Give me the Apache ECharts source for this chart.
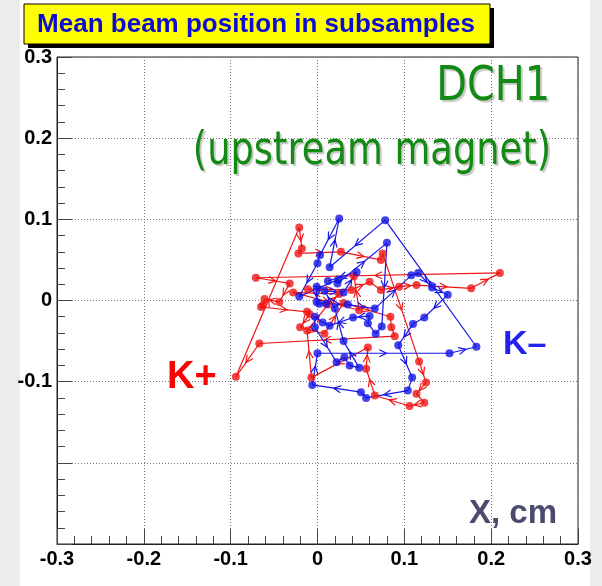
<!DOCTYPE html>
<html>
<head>
<meta charset="utf-8">
<script src="https://cdn.jsdelivr.net/npm/echarts@6/dist/echarts.min.js"></script>
<style>
  html, body { margin: 0; padding: 0; background: #ececec; }
  #chart { width: 602px; height: 586px; }
</style>
</head>
<body>
<div id="chart"></div>
<script>
// Axis tick labels (value order from min to max)
const xTickLabels = ['-0.3', '-0.2', '-0.1', '0', '0.1', '0.2', '0.3'];
const yTickLabels = ['', '', '-0.1', '0', '0.1', '0.2', '0.3'];

// K+ mean beam positions, subsample by subsample (X, Y in cm)
const kPlusX = [-0.011, 0.039, 0.060, 0.073, 0.094, 0.114, 0.177, 0.210, -0.071, -0.032,
                -0.044, -0.061, -0.063, -0.065, -0.012, -0.009, -0.020, 0.008, 0.030, 0.084,
                0.085, 0.089, -0.067, -0.094, -0.021, -0.018, -0.022, 0.027, 0.073, 0.075,
                0.117, 0.125, 0.114, 0.123, 0.106, 0.066, 0.056, 0.058, -0.007, -0.012,
                0.012, 0.025, -0.028, 0.048, 0.042];
const kPlusY = [0.014, 0.013, 0.023, 0.013, 0.017, 0.019, 0.015, 0.034, 0.028, 0.021,
                -0.002, 0.002, -0.006, -0.008, -0.014, -0.017, -0.033, -0.041, -0.003, -0.020,
                -0.033, -0.044, -0.053, -0.094, 0.090, 0.064, 0.058, 0.060, 0.050, 0.058,
                -0.075, -0.101, -0.115, -0.126, -0.130, -0.117, -0.084, -0.058, -0.095, -0.037,
                -0.005, 0.008, 0.010, -0.012, 0.030];

// K- mean beam positions, subsample by subsample (X, Y in cm)
const kMinusX = [-0.001, -0.001, 0.002, 0.010, 0.035, 0.066, 0.108, 0.116, 0.132, 0.150,
                 0.123, 0.110, 0.093, 0.109, 0.104, 0.056, 0.050, -0.006, 0.000, 0.152,
                 0.183, 0.078, 0.014, 0.025, 0.003, 0.000, -0.021, 0.024, 0.023, 0.080,
                 0.074, 0.067, 0.058, 0.060, 0.041, 0.014, 0.006, -0.003, -0.003, 0.022,
                 0.031, 0.037, 0.048, 0.030, 0.020, 0.008, 0.030, 0.045, 0.012];
const kMinusY = [0.017, -0.002, -0.004, -0.004, -0.005, -0.010, 0.031, 0.034, 0.016, 0.007,
                 -0.021, -0.029, -0.055, -0.095, -0.111, -0.120, -0.113, -0.104, -0.065, -0.065,
                 -0.057, 0.099, 0.041, 0.101, 0.056, 0.046, 0.005, 0.026, 0.021, 0.071,
                 -0.032, -0.041, -0.028, -0.019, -0.021, -0.031, -0.027, -0.020, -0.033, -0.076,
                 -0.070, -0.080, -0.083, -0.050, -0.010, 0.012, 0.010, 0.035, 0.024];

const RED = '#f01414';
const BLUE = '#1414e6';
const FONT = "'Liberation Sans', Arial, Helvetica, sans-serif";
const GREEN_FONT = "'DejaVu Sans', Verdana, sans-serif";

function points(xs, ys) {
  return xs.map((x, i) => [x, ys[i]]);
}
function segments(xs, ys) {
  const out = [];
  for (let i = 0; i + 1 < xs.length; i++) out.push([xs[i], ys[i], xs[i + 1], ys[i + 1]]);
  return out;
}

// Each step is a straight segment with an open arrowhead at its middle
function stepRenderer(color) {
  return function (params, api) {
    const a = api.coord([api.value(0), api.value(1)]);
    const b = api.coord([api.value(2), api.value(3)]);
    const dx = b[0] - a[0], dy = b[1] - a[1];
    const len = Math.hypot(dx, dy) || 1;
    const ux = dx / len, uy = dy / len;
    const children = [{
      type: 'line',
      shape: { x1: a[0], y1: a[1], x2: b[0], y2: b[1] },
      style: { stroke: color, lineWidth: 1.2 }
    }];
    if (len > 14) {
      const mx = (a[0] + b[0]) / 2 + ux * 3, my = (a[1] + b[1]) / 2 + uy * 3;
      const L = 8, ang = 0.45, c = Math.cos(ang), s = Math.sin(ang);
      const bx = -ux, by = -uy;
      const p1 = [mx + L * (bx * c - by * s), my + L * (bx * s + by * c)];
      const p2 = [mx + L * (bx * c + by * s), my + L * (-bx * s + by * c)];
      children.push({
        type: 'polyline',
        shape: { points: [p1, [mx, my], p2] },
        style: { stroke: color, fill: null, lineWidth: 1.2 }
      });
    }
    return { type: 'group', children: children };
  };
}

const axisCommon = {
  type: 'value',
  min: -0.3,
  max: 0.3,
  interval: 0.1,
  axisLine: { show: true, onZero: false, lineStyle: { color: '#222', width: 1 } },
  axisTick: { show: true, inside: true, length: 15, lineStyle: { color: '#444', width: 1 } },
  minorTick: { show: true, splitNumber: 5, length: 8, lineStyle: { color: '#444', width: 1 } },
  splitLine: { show: true, lineStyle: { color: '#777', width: 1, type: [1, 2] } }
};

const chart = echarts.init(document.getElementById('chart'), null, { renderer: 'canvas' });

chart.setOption({
  animation: false,
  backgroundColor: '#ececec',
  grid: {
    left: 57, right: 24, top: 57, bottom: 42,
    show: true, backgroundColor: '#ffffff', borderColor: '#222', borderWidth: 1
  },
  xAxis: Object.assign({}, axisCommon, {
    position: 'bottom',
    axisLabel: {
      color: '#000', fontFamily: FONT, fontWeight: 'bold', fontSize: 20, margin: 5,
      formatter: (v, i) => xTickLabels[i]
    }
  }),
  yAxis: Object.assign({}, axisCommon, {
    position: 'left',
    axisLabel: {
      color: '#000', fontFamily: FONT, fontWeight: 'bold', fontSize: 20, margin: 5,
      formatter: (v, i) => yTickLabels[i]
    }
  }),
  graphic: [
    // white page behind the figure
    { type: 'rect', z: -10, shape: { x: 20, y: 0, width: 570, height: 586 }, style: { fill: '#ffffff' }, silent: true },
    // title box with drop shadow
    { type: 'rect', z: 10, shape: { x: 28, y: 8, width: 466, height: 40 }, style: { fill: '#000' } },
    { type: 'rect', z: 11, shape: { x: 24, y: 4, width: 466, height: 40 }, style: { fill: '#ffff00', stroke: '#000', lineWidth: 1 } },
    { type: 'text', z: 12, x: 256, y: 25,
      style: { text: 'Mean beam position in subsamples', fill: '#0c0cd2', font: "bold 26px " + FONT,
               textAlign: 'center', textVerticalAlign: 'middle' } },
    // detector annotation
    { type: 'text', z: 12, x: 550, y: 112, scaleX: 0.83,
      style: { text: 'DCH1', fill: '#138a13', font: "48px " + GREEN_FONT, textAlign: 'right', textVerticalAlign: 'bottom',
               textShadowColor: 'rgba(0,0,0,0.22)', textShadowOffsetX: 2, textShadowOffsetY: 2, textShadowBlur: 1 } },
    { type: 'text', z: 12, x: 551, y: 175, scaleX: 0.80,
      style: { text: '(upstream magnet)', fill: '#138a13', font: "46px " + GREEN_FONT, textAlign: 'right', textVerticalAlign: 'bottom',
               textShadowColor: 'rgba(0,0,0,0.22)', textShadowOffsetX: 2, textShadowOffsetY: 2, textShadowBlur: 1 } },
    // beam labels
    { type: 'text', z: 12, x: 167, y: 378,
      style: { text: 'K+', fill: '#ff0000', font: "bold 38px " + FONT, textAlign: 'left', textVerticalAlign: 'middle' } },
    { type: 'text', z: 12, x: 503, y: 345,
      style: { text: 'K\u2013', fill: '#2222ee', font: "bold 34px " + FONT, textAlign: 'left', textVerticalAlign: 'middle' } },
    // axis title
    { type: 'text', z: 12, x: 557, y: 514,
      style: { text: 'X, cm', fill: '#4b4b6e', font: "bold 33px " + FONT, textAlign: 'right', textVerticalAlign: 'middle' } }
  ],
  series: [
    {
      type: 'custom', name: 'K+ steps', coordinateSystem: 'cartesian2d',
      data: segments(kPlusX, kPlusY), encode: { x: [0, 2], y: [1, 3] },
      renderItem: stepRenderer(RED), silent: true
    },
    {
      type: 'scatter', name: 'K+', data: points(kPlusX, kPlusY),
      symbol: 'circle', symbolSize: 8, itemStyle: { color: RED }, silent: true
    },
    {
      type: 'custom', name: 'K- steps', coordinateSystem: 'cartesian2d',
      data: segments(kMinusX, kMinusY), encode: { x: [0, 2], y: [1, 3] },
      renderItem: stepRenderer(BLUE), silent: true
    },
    {
      type: 'scatter', name: 'K-', data: points(kMinusX, kMinusY),
      symbol: 'circle', symbolSize: 8, itemStyle: { color: BLUE }, silent: true
    }
  ]
});
</script>
</body>
</html>
